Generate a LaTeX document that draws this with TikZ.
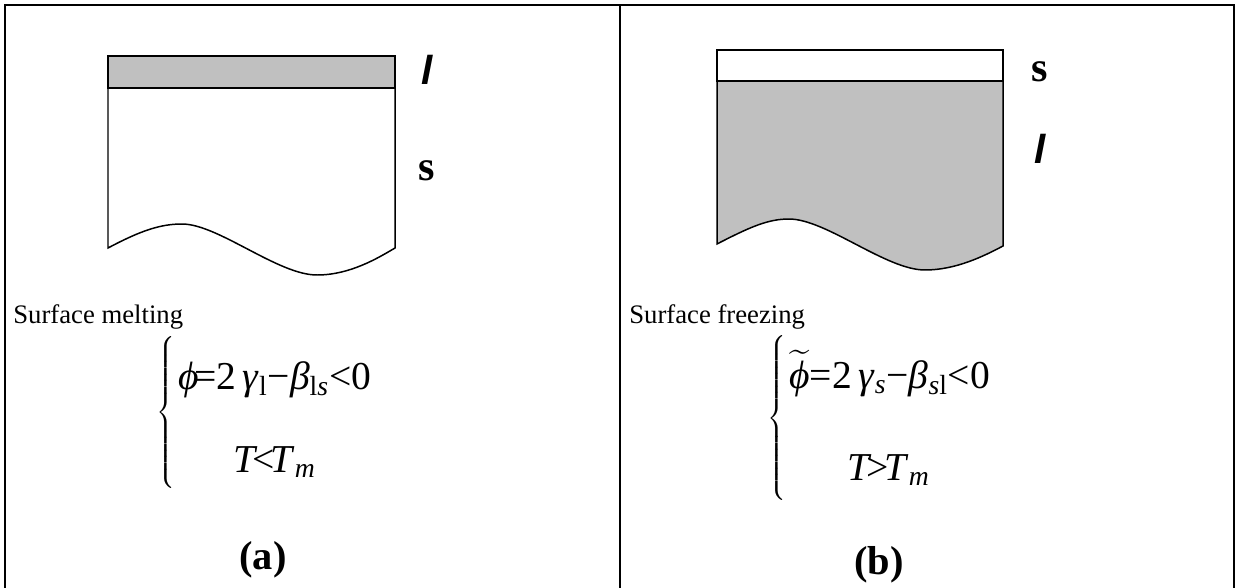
\documentclass[tikz,border=0pt]{standalone}
\usepackage{amsmath}
\usepackage{fontspec}
\setmainfont{Liberation Serif}
\newfontfamily\arialf{Liberation Sans}
\usetikzlibrary{positioning}
\definecolor{szurke}{RGB}{192,192,192}
\tikzset{
  keret/.style={line width=1.1pt},
  test/.style={draw,line width=0.85pt},
  fazis/.style={font=\fontsize{24}{28}\selectfont\bfseries,anchor=base,inner sep=0pt},
  fazisl/.style={font=\fontsize{23}{28}\selectfont\arialf\bfseries\itshape,anchor=base,inner sep=0pt},
  felirat/.style={font=\fontsize{15.2}{18}\selectfont,anchor=base west,inner sep=0pt},
  keplet/.style={font=\fontsize{22.5}{26}\selectfont,anchor=base west,inner sep=0pt},
  zarojel/.style={inner sep=0pt,font=\fontsize{11.5}{14}\selectfont},
  jel/.style={font=\fontsize{23}{28}\selectfont\bfseries,anchor=base,inner sep=0pt},
}
\newcommand\al[1]{$_{\text{#1}}$}
\newcommand\szuk{\kern-0.12em}

\begin{document}
\begin{tikzpicture}[x=0.02cm,y=-0.02cm]
  \useasboundingbox (0,0) rectangle (1237,588);
  % keret
  \draw[keret] (5,590) -- (5,5) -- (1234,5) -- (1234,590);
  \draw[keret] (620,5) -- (620,590);

  % (a) surface melting
  \fill[szurke] (108,56) rectangle (395,88);
  \draw[test] (108,56) rectangle (395,88);
  \draw[test] (108,88) -- (108,248)
    .. controls (140,231) and (160,224) .. (182,224)
    .. controls (218,224) and (278,275) .. (317,275)
    .. controls (350,275) and (378,258) .. (395,248) -- (395,88);
  \node[fazisl] (la) at (427,85) {l};
  \node[fazis] (sa) at (427,180) {s};
  \node[felirat] (fa) at (13,323) {Surface melting};
  \node[zarojel] (za) at (167,413)
    {$\left\{\vrule height 1.43cm depth 1.43cm width 0pt\right.$};
  \node[keplet] (ea1) at (178,389)
    {\textit{ϕ}\szuk=2\,\textit{γ}\al{l}−\textit{β}\al{l\itshape s}<0};
  \node[keplet] (ea2) at (233,472) {\textit{T}\szuk<\szuk\textit{T}\al{\itshape m}};
  \node[jel] (ja) at (263,569) {(a)};

  % (b) surface freezing
  \fill[szurke] (717,81) -- (717,244)
    .. controls (750,227) and (768,219) .. (789,219)
    .. controls (826,219) and (886,270) .. (925,270)
    .. controls (956,270) and (984,256) .. (1003,246) -- (1003,81) -- cycle;
  \draw[test] (717,50) rectangle (1003,81);
  \draw[test] (717,81) -- (717,244)
    .. controls (750,227) and (768,219) .. (789,219)
    .. controls (826,219) and (886,270) .. (925,270)
    .. controls (956,270) and (984,256) .. (1003,246) -- (1003,81);
  \node[fazis] (sb) at (1040,82) {s};
  \node[fazisl] (lb) at (1040,163) {l};
  \node[felirat] (fb) at (629,323) {Surface freezing};
  \node[zarojel] (zb) at (778,418)
    {$\left\{\vrule height 1.53cm depth 1.53cm width 0pt\right.$};
  \node[keplet] (eb1) at (789,388)
    {$\widetilde{\text{\itshape ϕ}}$=2\,\textit{γ}\al{\itshape s}−\textit{β}\al{\itshape s\upshape l}<0};
  \node[keplet] (eb2) at (847,480) {\textit{T}\szuk>\szuk\textit{T}\al{\itshape m}};
  \node[jel] (jb) at (879,574) {(b)};
\end{tikzpicture}
\end{document}
